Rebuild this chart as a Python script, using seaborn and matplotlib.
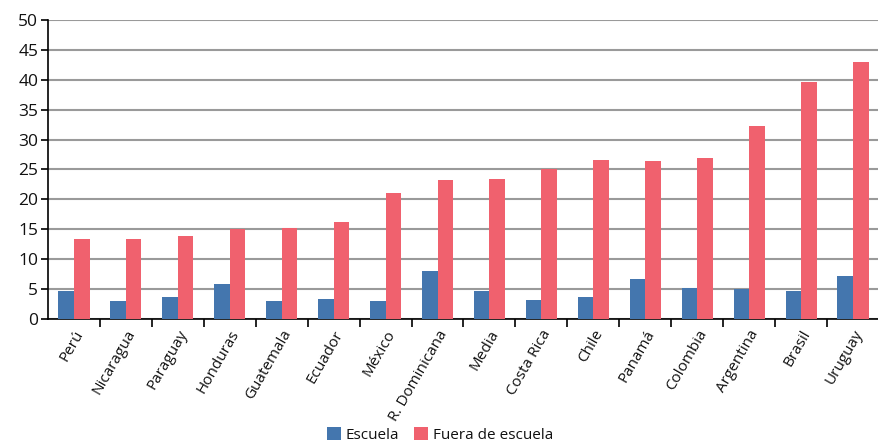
#!/usr/bin/env python3
"""Grouped bars: Escuela vs Fuera de escuela by country"""

import matplotlib
matplotlib.use('Agg')
import matplotlib.pyplot as plt
import numpy as np
import pandas as pd
import seaborn as sns

countries = ['Perú', 'Nicaragua', 'Paraguay', 'Honduras', 'Guatemala',
             'Ecuador', 'México', 'R. Dominicana', 'Media', 'Costa Rica',
             'Chile', 'Panamá', 'Colombia', 'Argentina', 'Brasil', 'Uruguay']
escuela = [4.7, 3.0, 3.7, 5.9, 3.0, 3.3, 3.0, 8.1, 4.6, 3.2,
           3.6, 6.7, 5.2, 5.0, 4.6, 7.2]
fuera = [13.3, 13.4, 13.9, 15.0, 15.3, 16.3, 21.0, 23.2, 23.4, 25.0,
         26.6, 26.4, 27.0, 32.3, 39.7, 43.0]
series = ['Escuela', 'Fuera de escuela']
colors = ['#4476AE', '#F0616E']


# --------------------------------------------------
def main():
    sns.set_theme(style='white')
    plt.rcParams['font.family'] = ['Open Sans', 'DejaVu Sans']

    df = pd.DataFrame({
        'pais': countries * 2,
        'valor': escuela + fuera,
        'serie': [series[0]] * len(countries) + [series[1]] * len(countries),
    })

    fig = plt.figure(figsize=(8.79, 4.46), dpi=100)
    ax = fig.add_axes([48 / 879, 1 - 319 / 446, 1 - 48 / 879, 299 / 446])

    sns.barplot(data=df, x='pais', y='valor', hue='serie', order=countries,
                hue_order=series, palette=colors, width=0.6, saturation=1,
                linewidth=0, ax=ax, zorder=3)

    ax.set_xlim(-0.5, len(countries) - 0.5)
    ax.set_ylim(0, 50)
    ax.set_yticks(np.arange(0, 51, 5))
    ax.yaxis.grid(True, color='#9a9a9a', linewidth=1.5, zorder=0)
    ax.set_axisbelow(True)
    ax.set_xlabel('')
    ax.set_ylabel('')

    for side in ['top', 'right']:
        ax.spines[side].set_visible(False)
    for side in ['left', 'bottom']:
        ax.spines[side].set_color('black')
        ax.spines[side].set_linewidth(1.2)

    ax.tick_params(axis='y', direction='out', length=5, width=1.2,
                   color='black', labelsize=12.5, labelcolor='#111111',
                   pad=2, left=True)
    ax.tick_params(axis='x', which='major', length=0, labelsize=11,
                   labelcolor='#111111', pad=6)
    ax.set_xticks(np.arange(len(countries)) + 0.5, minor=True)
    ax.tick_params(axis='x', which='minor', direction='out', length=6,
                   width=1.2, color='black', bottom=True)
    plt.setp(ax.get_xticklabels(), rotation=60, ha='right',
             rotation_mode='anchor')

    ax.legend(loc='upper center', bbox_to_anchor=(0.472, -0.342), ncol=2,
              frameon=False, fontsize=11, handlelength=0.9,
              handleheight=0.9, handletextpad=0.3, columnspacing=1.0,
              borderaxespad=0, labelcolor='#111111')

    fig.savefig('out.png', dpi=100)


# --------------------------------------------------
if __name__ == '__main__':
    main()
